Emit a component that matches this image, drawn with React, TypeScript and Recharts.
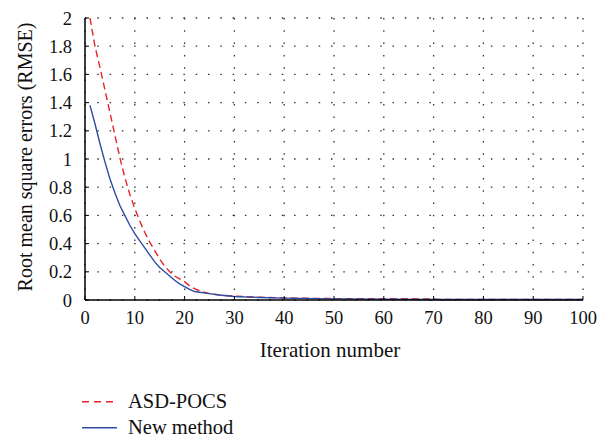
import { LineChart, Line, XAxis, YAxis, CartesianGrid } from "recharts";

const asdIter = [1, 2, 3, 4, 5, 6, 7, 8, 9, 10, 11, 12, 13, 14, 15, 16, 17, 18, 19, 20, 21, 22, 23, 24, 25, 27, 30, 35, 40, 45, 50, 60, 70, 71, 80, 90, 100];
const asdRmse = [2.0, 1.8, 1.65, 1.49, 1.33, 1.17, 1.01, 0.87, 0.75, 0.65, 0.56, 0.48, 0.41, 0.35, 0.29, 0.24, 0.2, 0.17, 0.15, 0.13, 0.1, 0.08, 0.065, 0.055, 0.045, 0.035, 0.027, 0.02, 0.015, 0.012, 0.01, 0.009, 0.008, 0.004, 0.004, 0.004, 0.004];

const newIter = [1, 2, 3, 4, 5, 6, 7, 8, 9, 10, 11, 12, 13, 14, 15, 16, 17, 18, 19, 20, 21, 22, 23, 25, 27, 30, 35, 40, 50, 60, 70, 80, 100];
const newRmse = [1.38, 1.25, 1.11, 0.98, 0.86, 0.76, 0.67, 0.6, 0.53, 0.47, 0.42, 0.37, 0.32, 0.27, 0.23, 0.2, 0.17, 0.14, 0.115, 0.095, 0.075, 0.06, 0.055, 0.045, 0.035, 0.025, 0.018, 0.013, 0.008, 0.005, 0.004, 0.004, 0.004];

const xTicks = [0, 10, 20, 30, 40, 50, 60, 70, 80, 90, 100];
const yTicks = [0, 0.2, 0.4, 0.6, 0.8, 1, 1.2, 1.4, 1.6, 1.8, 2];
const yTickLabels = ["0", "0.2", "0.4", "0.6", "0.8", "1", "1.2", "1.4", "1.6", "1.8", "2"];

const seriesNames = ["ASD-POCS", "New method"];

const red = "#e8232b";
const blue = "#2b4ea3";
const font = "Liberation Serif";

const asdData = asdIter.map((it, i) => ({ iter: it, rmse: asdRmse[i] }));
const newData = newIter.map((it, i) => ({ iter: it, rmse: newRmse[i] }));

const axisStroke = { stroke: "#000", strokeWidth: 1.5 };
const tickStyle = { fontSize: 18.5, fill: "#111", fontFamily: font };
const fmtY = (v: number) => yTickLabels[yTicks.indexOf(v)] ?? String(v);

export default function App() {
  return (
    <div style={{ position: "absolute", left: 0, top: 0, width: 600, height: 438, background: "#fff", fontFamily: font }}>
      <LineChart width={600} height={438} margin={{ top: 18, right: 17, left: 0, bottom: 78 }} style={{ fontFamily: font }}>
        <CartesianGrid stroke="#333" strokeWidth={1.3} strokeDasharray="1.5 10.8" />
        <XAxis
          type="number"
          dataKey="iter"
          domain={[0, 100]}
          ticks={xTicks}
          allowDuplicatedCategory={false}
          height={60}
          axisLine={axisStroke}
          tickLine={{ stroke: "#000" }}
          tickSize={-4}
          tickMargin={15}
          tick={tickStyle}
          label={{ value: "Iteration number", position: "insideBottom", offset: 3, dx: -4, fontSize: 21, fill: "#111", fontFamily: font }}
        />
        <XAxis
          xAxisId="top"
          orientation="top"
          type="number"
          domain={[0, 100]}
          ticks={xTicks}
          height={0}
          axisLine={axisStroke}
          tickLine={{ stroke: "#000" }}
          tickSize={-4}
          tickFormatter={() => ""}
        />
        <YAxis
          type="number"
          domain={[0, 2]}
          ticks={yTicks}
          width={85}
          axisLine={axisStroke}
          tickLine={{ stroke: "#000" }}
          tickSize={-4}
          tickMargin={17}
          tick={tickStyle}
          tickFormatter={fmtY}
          label={{
            value: "Root mean square errors (RMSE)",
            angle: -90,
            position: "insideLeft",
            offset: 25,
            dy: -2,
            fontSize: 20,
            fill: "#111",
            fontFamily: font,
            style: { textAnchor: "middle" },
          }}
        />
        <YAxis
          yAxisId="right"
          orientation="right"
          type="number"
          domain={[0, 2]}
          ticks={yTicks}
          width={0}
          axisLine={axisStroke}
          tickLine={{ stroke: "#000" }}
          tickSize={-4}
          tickFormatter={() => ""}
        />
        <Line
          data={asdData}
          dataKey="rmse"
          name={seriesNames[0]}
          type="linear"
          stroke={red}
          strokeWidth={1.4}
          strokeDasharray="7 4"
          dot={false}
          isAnimationActive={false}
        />
        <Line
          data={newData}
          dataKey="rmse"
          name={seriesNames[1]}
          type="linear"
          stroke={blue}
          strokeWidth={1.4}
          dot={false}
          isAnimationActive={false}
        />
      </LineChart>
      <svg width={300} height={53} style={{ position: "absolute", left: 0, top: 385 }}>
        <line x1={82} x2={117} y1={16.7} y2={16.7} stroke={red} strokeWidth={1.4} strokeDasharray="7 5" />
        <text x={128} y={23} fontSize={20.5} fill="#111" fontFamily={font}>
          {seriesNames[0]}
        </text>
        <line x1={82} x2={117} y1={42.7} y2={42.7} stroke={blue} strokeWidth={1.4} />
        <text x={128} y={48.5} fontSize={20.5} fill="#111" fontFamily={font}>
          {seriesNames[1]}
        </text>
      </svg>
    </div>
  );
}
